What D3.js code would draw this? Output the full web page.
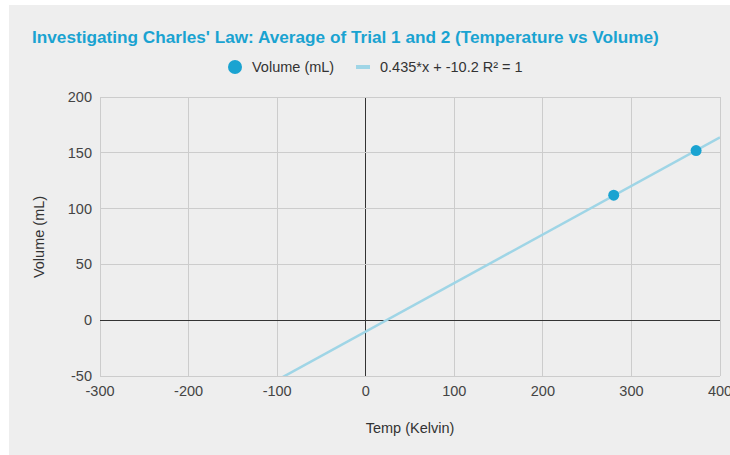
<!DOCTYPE html>
<html><head><meta charset="utf-8">
<script src="https://cdn.jsdelivr.net/npm/d3@7/dist/d3.min.js"></script>
<style>body{margin:0;background:#fff;}svg{display:block;font-family:Arial,"Liberation Sans",sans-serif;}</style>
</head><body>
<svg id="c" width="730" height="455"></svg>
<script>
const temps = [280, 373];
const volumes = [112, 152];
const slope = 0.435, intercept = -10.2;
const xTicks = [-300, -200, -100, 0, 100, 200, 300, 400];
const yTicks = [-50, 0, 50, 100, 150, 200];
const titleText = "Investigating Charles' Law: Average of Trial 1 and 2 (Temperature vs Volume)";
const seriesName = "Volume (mL)";
const trendName = "0.435*x + -10.2 R\u00B2 = 1";

const svg = d3.select("#c");
svg.append("rect").attr("x",9).attr("y",5).attr("width",721).attr("height",450).attr("fill","#eeeeee");

const x = d3.scaleLinear().domain([-300,400]).range([100,720]);
const y = d3.scaleLinear().domain([-50,200]).range([376,97]);

const g = svg.append("g");
// grid
g.selectAll(".vg").data(xTicks).join("line")
 .attr("x1",d=>x(d)).attr("x2",d=>x(d)).attr("y1",y(-50)).attr("y2",y(200))
 .attr("stroke",d=>d===0?"#333":"#cccccc").attr("stroke-width",1).attr("shape-rendering","crispEdges");
g.selectAll(".hg").data(yTicks).join("line")
 .attr("x1",x(-300)).attr("x2",x(400)).attr("y1",d=>y(d)).attr("y2",d=>y(d))
 .attr("stroke",d=>d===0?"#333":"#cccccc").attr("stroke-width",1).attr("shape-rendering","crispEdges");

// tick labels
g.selectAll(".xl").data(xTicks).join("text")
 .attr("x",d=>x(d)).attr("y",396).attr("text-anchor","middle")
 .attr("font-size",14.5).attr("fill","#444").text(d=>d);
g.selectAll(".yl").data(yTicks).join("text")
 .attr("x",92).attr("y",d=>y(d)+5).attr("text-anchor","end")
 .attr("font-size",14.5).attr("fill","#444").text(d=>d);

// trendline clipped
svg.append("clipPath").attr("id","pc").append("rect")
 .attr("x",x(-300)).attr("y",y(200)).attr("width",x(400)-x(-300)).attr("height",y(-50)-y(200));
const xs = [-300, 400];
g.append("line").attr("clip-path","url(#pc)")
 .attr("x1",x(xs[0])).attr("y1",y(slope*xs[0]+intercept))
 .attr("x2",x(xs[1])).attr("y2",y(slope*xs[1]+intercept))
 .attr("stroke","#9fd5e6").attr("stroke-width",2.5);

// points
g.selectAll(".pt").data(temps.map((t,i)=>[t,volumes[i]])).join("circle")
 .attr("cx",d=>x(d[0])).attr("cy",d=>y(d[1])).attr("r",5.5).attr("fill","#1aa3d1");

// title
svg.append("text").attr("x",32).attr("y",43).attr("font-size",17.2).attr("font-weight","bold")
 .attr("fill","#1aa3d1").text(titleText);

// legend
svg.append("circle").attr("cx",235).attr("cy",67).attr("r",7).attr("fill","#1aa3d1");
svg.append("text").attr("x",252).attr("y",72).attr("font-size",14.5).attr("fill","#333").text(seriesName);
svg.append("line").attr("x1",356).attr("x2",370).attr("y1",67).attr("y2",67).attr("stroke","#9fd5e6").attr("stroke-width",4);
svg.append("text").attr("x",380).attr("y",72).attr("font-size",14.5).attr("fill","#333").text(trendName);

// axis titles
svg.append("text").attr("x",410).attr("y",433).attr("text-anchor","middle").attr("font-size",14.5).attr("fill","#333").text("Temp (Kelvin)");
svg.append("text").attr("transform","translate(44,237) rotate(-90)").attr("text-anchor","middle").attr("font-size",14.5).attr("fill","#333").text("Volume (mL)");
</script>
</body></html>
